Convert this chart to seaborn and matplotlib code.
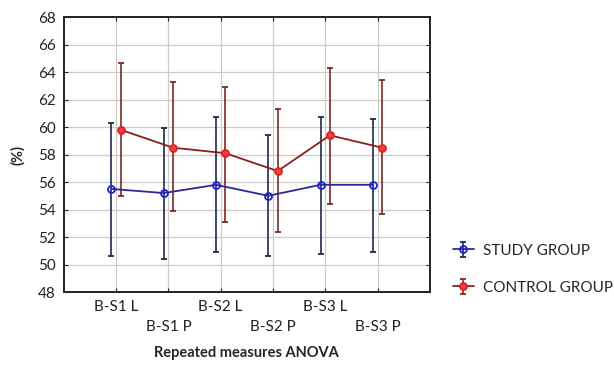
import numpy as np
import seaborn as sns
import matplotlib.pyplot as plt

# values
conditions = ["B-S1 L", "B-S1 P", "B-S2 L", "B-S2 P", "B-S3 L", "B-S3 P"]
study_mean = [55.5, 55.2, 55.8, 55.0, 55.8, 55.8]
study_low = [50.6, 50.4, 50.9, 50.6, 50.8, 50.9]
study_high = [60.3, 59.9, 60.7, 59.4, 60.7, 60.6]
control_mean = [59.8, 58.5, 58.1, 56.8, 59.4, 58.5]
control_low = [55.0, 53.9, 53.1, 52.4, 54.4, 53.7]
control_high = [64.7, 63.3, 62.9, 61.3, 64.3, 63.4]

sns.set_style("ticks")
plt.rcParams['font.family'] = ['Lato', 'DejaVu Sans']

fig = plt.figure(figsize=(6.14, 3.65), dpi=100)
ax = fig.add_axes([0.104, 0.2, 0.596, 0.753])

x = np.arange(len(conditions))
off = 0.09

sm = np.array(study_mean)
cm = np.array(control_mean)
ax.errorbar(x - off, sm, yerr=[sm - np.array(study_low), np.array(study_high) - sm],
            fmt='-o', color='#2a2a9a', mfc='none', mec='#2020d0', mew=1.3, ms=5,
            ecolor='#1e2a4a', elinewidth=1.2, capsize=2, lw=1.3,
            label="STUDY GROUP", zorder=3)
ax.errorbar(x + off, cm, yerr=[cm - np.array(control_low), np.array(control_high) - cm],
            fmt='-o', color='#8a2020', mfc='#f04040', mec='#e02020', mew=1.3, ms=5,
            ecolor='#7a2a2a', elinewidth=1.2, capsize=2, lw=1.3,
            label="CONTROL GROUP", zorder=3)

ax.set_xlim(-1, 6)
ax.set_ylim(48, 68)
ax.set_yticks(range(48, 69, 2))
ax.set_xticks(x)
ax.set_xticklabels([c if i % 2 == 0 else "\n" + c for i, c in enumerate(conditions)],
                   fontsize=11, color='#222222', linespacing=1.5)
ax.tick_params(axis='y', labelsize=11, labelcolor='#222222')
ax.tick_params(direction='in', length=3, top=True, right=True, pad=6)
ax.grid(True, color='#cccccc', lw=0.9)
for s in ax.spines.values():
    s.set_color('#222222')
    s.set_linewidth(1.4)

ax.set_xlabel("Repeated measures ANOVA", fontsize=10.5, fontweight='bold', labelpad=9)
ax.set_ylabel("(%)", fontsize=10.5, fontweight='bold', labelpad=9)

fig.legend(loc='lower left', bbox_to_anchor=(0.715, 0.155), frameon=False,
           fontsize=11, labelspacing=1.5, handlelength=1.4, handletextpad=0.6)

plt.savefig("out.png", dpi=100)
